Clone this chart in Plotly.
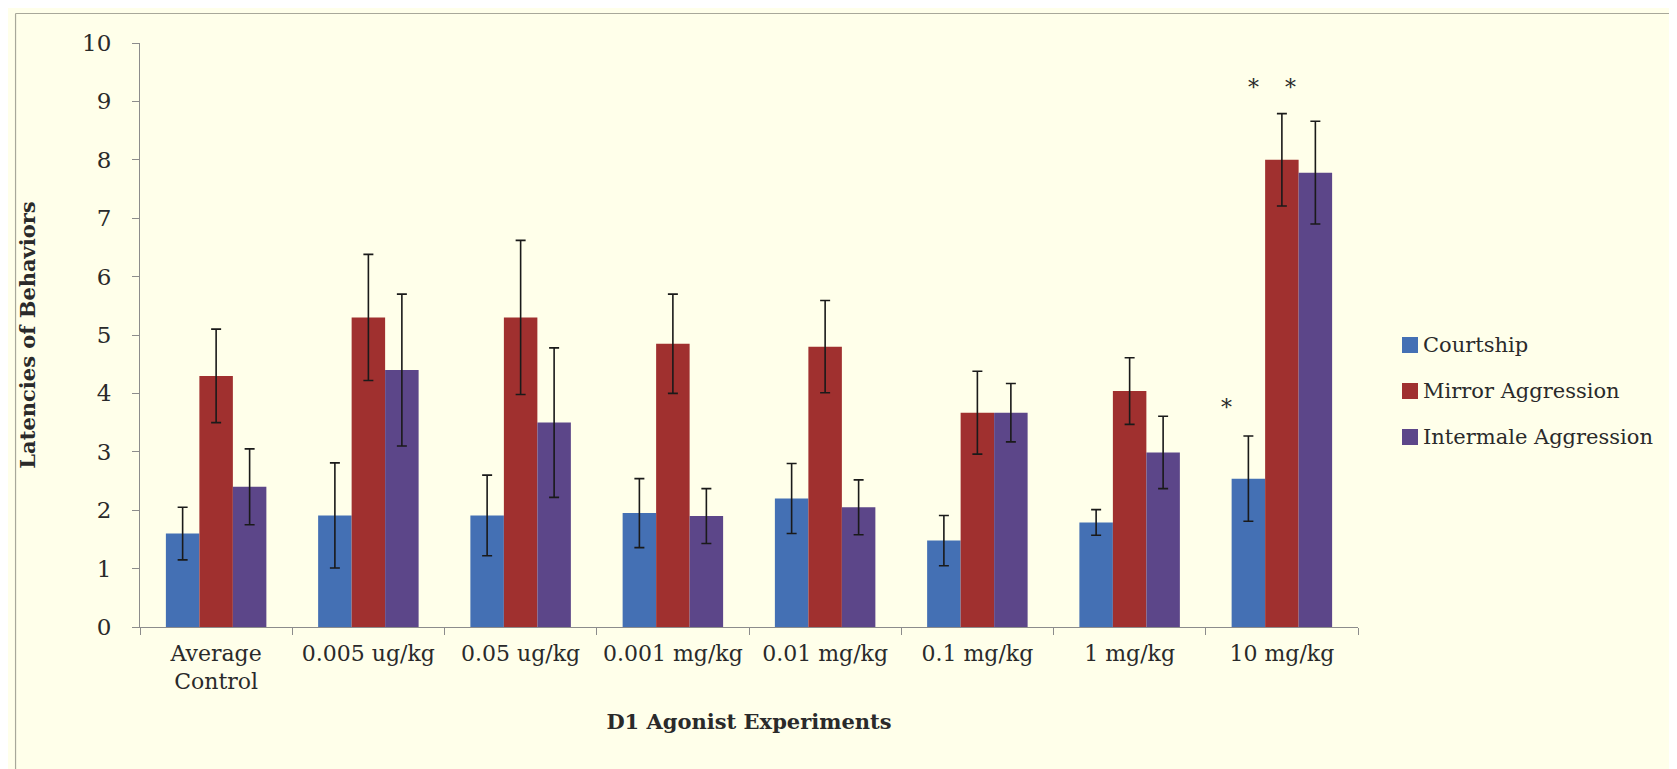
import plotly.graph_objects as go

# ---------------- data ----------------
categories = ["Average<br>Control", "0.005 ug/kg", "0.05 ug/kg", "0.001 mg/kg",
              "0.01 mg/kg", "0.1 mg/kg", "1 mg/kg", "10 mg/kg"]
series_names = ["Courtship", "Mirror Aggression", "Intermale Aggression"]

courtship = [1.6, 1.91, 1.91, 1.95, 2.2, 1.48, 1.79, 2.54]
courtship_err = [0.45, 0.9, 0.69, 0.59, 0.6, 0.43, 0.22, 0.73]

mirror = [4.3, 5.3, 5.3, 4.85, 4.8, 3.67, 4.04, 8.0]
mirror_err = [0.8, 1.08, 1.32, 0.85, 0.79, 0.71, 0.57, 0.79]

intermale = [2.4, 4.4, 3.5, 1.9, 2.05, 3.67, 2.99, 7.78]
intermale_err = [0.65, 1.3, 1.28, 0.47, 0.47, 0.5, 0.62, 0.88]

y_ticks = [0, 1, 2, 3, 4, 5, 6, 7, 8, 9, 10]

# significance markers: (category index, series index, label height)
significance = [(7, 0, 3.76), (7, 1, 9.24), (7, 2, 9.24)]

# ---------------- styles ----------------
colors = ["#4470B4", "#A0302F", "#5C4689"]
bg = "#FFFFEA"
txt = "#2A2A2A"
font_family = "DejaVu Serif"
star_shift = [-0.143, -0.184, -0.166]  # horizontal nudge of the asterisks (category units)

W, H = 1677, 769
L, R, T, B = 131.5, 327, 35, 150
pw = W - L - R
ph = H - T - B


def px_x(px):
    return (px - L) / pw


def px_y(py):
    return (H - B - py) / ph


fig = go.Figure()
vals = [courtship, mirror, intermale]
errs = [courtship_err, mirror_err, intermale_err]
for name, v, e, c in zip(series_names, vals, errs, colors):
    fig.add_trace(go.Bar(
        name=name, x=categories, y=v, marker=dict(color=c, line=dict(width=0)),
        error_y=dict(type="data", array=e, visible=True, color="#1a1a1a",
                     thickness=1.6, width=5),
        showlegend=False,
    ))

bargap = 0.34
bar_w = (1 - bargap) / 3
annotations = []
for (ci, si, yv), sh in zip(significance, star_shift):
    xpos = ci + (si - 1) * bar_w + sh
    annotations.append(dict(x=xpos, y=yv, xref="x", yref="y", text="*",
                            showarrow=False, font=dict(family=font_family, size=22, color=txt)))

# custom legend
shapes = []
leg_y = [337, 383, 429]
for name, c, ly in zip(series_names, colors, leg_y):
    shapes.append(dict(type="rect", xref="paper", yref="paper",
                       x0=px_x(1394), x1=px_x(1410), y0=px_y(ly + 8), y1=px_y(ly - 8),
                       fillcolor=c, line=dict(width=0)))
    annotations.append(dict(x=px_x(1413), y=px_y(ly), xref="paper", yref="paper",
                            text=name, showarrow=False, xanchor="left", yanchor="middle",
                            font=dict(family=font_family, size=21, color=txt)))

# outer border lines
border = "#A8A89A"
shapes.append(dict(type="line", xref="paper", yref="paper",
                   x0=px_x(7), x1=px_x(W), y0=px_y(5.5), y1=px_y(5.5),
                   line=dict(color=border, width=1.2)))
shapes.append(dict(type="line", xref="paper", yref="paper",
                   x0=px_x(7), x1=px_x(7), y0=px_y(5.5), y1=px_y(767),
                   line=dict(color=border, width=1.2)))
shapes.append(dict(type="line", xref="paper", yref="paper",
                   x0=px_x(7), x1=px_x(W), y0=px_y(766.5), y1=px_y(766.5),
                   line=dict(color="#E6E6D4", width=1)))

fig.update_layout(
    width=W, height=H,
    margin=dict(l=L, r=R, t=T, b=B, autoexpand=False),
    paper_bgcolor=bg, plot_bgcolor=bg,
    barmode="group", bargap=bargap, bargroupgap=0,
    font=dict(family=font_family, size=21, color=txt),
    annotations=annotations, shapes=shapes,
    showlegend=False,
)
fig.update_xaxes(
    type="category", tickson="boundaries", ticks="outside", ticklen=7,
    tickcolor="#8C8C8C", showline=True, linecolor="#8C8C8C", linewidth=1.2,
    showgrid=False, ticklabelstandoff=6, tickangle=0,
    tickfont=dict(family=font_family, size=22, color=txt),
    title=dict(text="<b>D1 Agonist Experiments</b>", standoff=21,
               font=dict(family=font_family, size=21, color=txt)),
    automargin=False,
)
fig.update_yaxes(
    range=[0, 10], tickvals=y_ticks, ticks="outside", ticklen=7,
    tickcolor="#8C8C8C", showline=True, linecolor="#8C8C8C", linewidth=1.2,
    showgrid=False, zeroline=False, ticklabelstandoff=16,
    tickfont=dict(family=font_family, size=23, color=txt),
    title=dict(text="<b>Latencies of Behaviors</b>", standoff=40,
               font=dict(family=font_family, size=21, color=txt)),
    automargin=False,
)

fig.write_html("out.html")
